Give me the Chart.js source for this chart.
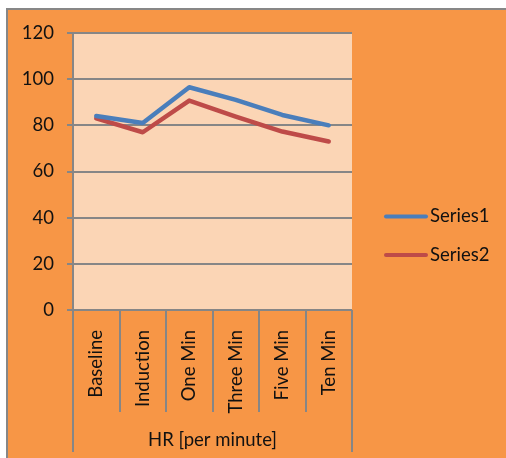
<!DOCTYPE html>
<html>
<head>
<meta charset="utf-8">
<script src="https://cdn.jsdelivr.net/npm/chart.js@4.4.1/dist/chart.umd.min.js"></script>
<style>
  html, body { margin: 0; padding: 0; background: #ffffff; }
  #wrap { width: 506px; height: 458px; }
</style>
</head>
<body>
<div id="wrap"><canvas id="c" width="506" height="458"></canvas></div>
<script>
// Heart rate readings at each stage
const categories = ['Baseline', 'Induction', 'One Min', 'Three Min', 'Five Min', 'Ten Min'];
const groupLabel = 'HR [per minute]';
const series1 = [84, 81, 96.5, 91, 84.5, 80];
const series2 = [83, 77, 90.7, 83.8, 77.3, 73];
const seriesNames = ['Series1', 'Series2'];
const yTicks = [0, 20, 40, 60, 80, 100, 120];

const FONT = 'Lato, "Open Sans", sans-serif';
const FONT_SIZE = 18.5;
const TEXT = '#111111';
const GRID = '#868686';

// Frame, plot fill, category separators, group label and legend
const decor = {
  id: 'decor',
  beforeDraw(chart) {
    const { ctx, chartArea: a, width, height } = chart;
    ctx.save();
    ctx.fillStyle = '#ffffff';
    ctx.fillRect(0, 0, width, height);
    ctx.fillStyle = '#F79646';
    ctx.fillRect(8, 10, width - 8, height - 10);
    ctx.strokeStyle = '#878787';
    ctx.lineWidth = 2;
    ctx.beginPath();
    ctx.moveTo(7, height);
    ctx.lineTo(7, 9);
    ctx.lineTo(width, 9);
    ctx.stroke();
    ctx.fillStyle = '#FBD5B5';
    ctx.fillRect(a.left, a.top, a.right - a.left, a.bottom - a.top);
    ctx.restore();
  },
  afterDraw(chart) {
    const { ctx, chartArea: a } = chart;
    const n = categories.length;
    const step = (a.right - a.left) / n;
    ctx.save();
    ctx.strokeStyle = GRID;
    ctx.lineWidth = 2;
    for (let i = 0; i <= n; i++) {
      const px = Math.round(a.left + i * step);
      const end = (i === 0 || i === n) ? 452 : 412;
      ctx.beginPath();
      ctx.moveTo(px, a.bottom);
      ctx.lineTo(px, end);
      ctx.stroke();
    }
    ctx.fillStyle = TEXT;
    ctx.font = FONT_SIZE + 'px ' + FONT;
    ctx.textAlign = 'center';
    ctx.textBaseline = 'middle';
    ctx.fillText(groupLabel, (a.left + a.right) / 2, 440);

    // legend
    const ys = [216.5, 255];
    chart.data.datasets.forEach((ds, i) => {
      ctx.strokeStyle = ds.borderColor;
      ctx.lineWidth = 4;
      ctx.lineCap = 'round';
      ctx.beginPath();
      ctx.moveTo(386, ys[i]);
      ctx.lineTo(426, ys[i]);
      ctx.stroke();
      ctx.fillStyle = TEXT;
      ctx.textAlign = 'left';
      ctx.fillText(ds.label, 430, ys[i]);
    });
    ctx.restore();
  }
};

new Chart(document.getElementById('c'), {
  type: 'line',
  data: {
    labels: categories,
    datasets: [
      { label: seriesNames[0], data: series1, borderColor: '#4A7EBB', borderWidth: 4.5, pointRadius: 0, tension: 0, borderCapStyle: 'round', borderJoinStyle: 'round' },
      { label: seriesNames[1], data: series2, borderColor: '#BE4B48', borderWidth: 4.5, pointRadius: 0, tension: 0, borderCapStyle: 'round', borderJoinStyle: 'round' }
    ]
  },
  options: {
    responsive: false,
    animation: false,
    devicePixelRatio: 1,
    layout: { padding: { top: 33, left: 0, right: 154, bottom: 0 } },
    plugins: { legend: { display: false }, tooltip: { enabled: false } },
    scales: {
      x: {
        offset: true,
        grid: { display: false },
        border: { display: false },
        ticks: {
          minRotation: 90, maxRotation: 90, padding: 12,
          color: TEXT, font: { family: FONT, size: FONT_SIZE }
        },
        afterFit(s) { s.height = 148; }
      },
      y: {
        min: 0, max: 120,
        afterBuildTicks(s) { s.ticks = yTicks.map(v => ({ value: v })); },
        grid: { color: GRID, lineWidth: 2, tickLength: 6, drawTicks: true },
        border: { color: GRID, width: 2 },
        ticks: { padding: 13, color: TEXT, font: { family: FONT, size: FONT_SIZE } },
        afterFit(s) { s.width = 73; }
      }
    }
  },
  plugins: [decor]
});
</script>
</body>
</html>
